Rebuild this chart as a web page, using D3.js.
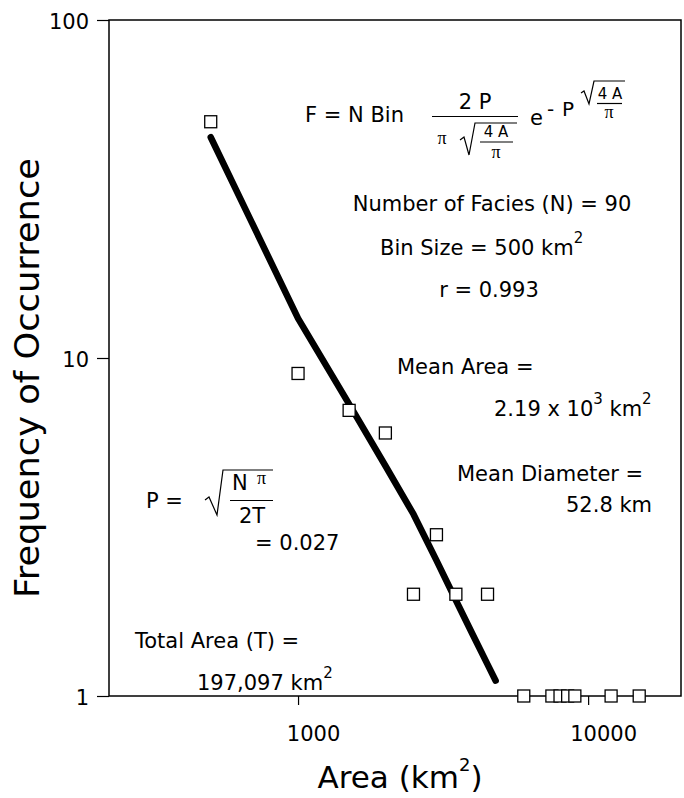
<!DOCTYPE html>
<html>
<head>
<meta charset="utf-8">
<script src="https://cdn.jsdelivr.net/npm/d3@7"></script>
<style>
  html, body { margin: 0; padding: 0; background: #fff; }
  svg { display: block; font-family: "DejaVu Sans", Verdana, sans-serif; }
</style>
</head>
<body>
<svg id="chart" width="684" height="798"></svg>
<script>
// Facies area-frequency histogram (log-log), bin size 500 km²
const binArea   = [500, 1000, 1500, 2000, 2500, 3000, 3500, 4500, 6000, 7500, 8000, 8500, 9000, 12000, 15000];
const frequency = [50,  9,    7,    6,    2,    3,    2,    2,    1,    1,    1,    1,    1,    1,     1];

// Fitted distribution curve
const fitArea = [500, 1000, 1500, 2000, 2500, 3000, 3500, 4000, 4500, 4800];
const fitFreq = [45,  13.1, 7.3,  4.8,  3.45, 2.52, 1.92, 1.52, 1.24, 1.11];

const xTicks = [1000, 10000];
const yTicks = [1, 10, 100];
const xDomain = [223, 20900];
const yDomain = [1, 100];

const svg = d3.select("#chart");
const plot = { left: 109, right: 681, top: 20, bottom: 696 };

const x = d3.scaleLog().domain(xDomain).range([plot.left, plot.right]);
const y = d3.scaleLog().domain(yDomain).range([plot.bottom, plot.top]);

// Axes
const yAxis = svg.append("g")
  .attr("transform", `translate(${plot.left},0)`)
  .call(d3.axisLeft(y).tickValues(yTicks).tickFormat(d3.format("d")).tickSize(12).tickPadding(8));
yAxis.select(".domain").remove();
yAxis.selectAll(".tick line").attr("stroke", "#000").attr("stroke-width", 1.2);
yAxis.selectAll(".tick text").attr("font-size", 21).attr("font-family", "DejaVu Sans").attr("fill", "#000").attr("dy", "0.4em");

const xAxis = svg.append("g")
  .attr("transform", `translate(0,${plot.bottom})`)
  .call(d3.axisBottom(x).tickValues(xTicks).tickFormat(d3.format("d")).tickSize(9));
xAxis.select(".domain").remove();
xAxis.selectAll(".tick line").attr("stroke", "#000").attr("stroke-width", 1.2);
xAxis.selectAll(".tick text").attr("font-size", 21).attr("font-family", "DejaVu Sans").attr("fill", "#000")
  .attr("y", 45).attr("dy", 0).attr("dx", 15);

// Plot frame
svg.append("rect")
  .attr("x", plot.left).attr("y", plot.top)
  .attr("width", plot.right - plot.left).attr("height", plot.bottom - plot.top)
  .attr("fill", "none").attr("stroke", "#000").attr("stroke-width", 1.5);

// Axis titles
svg.append("text")
  .attr("x", 400).attr("y", 788).attr("text-anchor", "middle")
  .attr("font-size", 31).attr("fill", "#000")
  .call(t => {
    t.append("tspan").text("Area (km");
    t.append("tspan").attr("font-size", 18).attr("dy", -17).text("2");
    t.append("tspan").attr("dy", 17).text(")");
  });

svg.append("text")
  .attr("transform", "translate(39,378) rotate(-90)")
  .attr("text-anchor", "middle")
  .attr("font-size", 33).attr("fill", "#000")
  .attr("textLength", 440).attr("lengthAdjust", "spacingAndGlyphs")
  .text("Frequency of Occurrence");

// Fitted curve
const line = d3.line().x(d => x(d[0])).y(d => y(d[1])).curve(d3.curveLinear);
svg.append("path")
  .datum(fitArea.map((a, i) => [a, fitFreq[i]]))
  .attr("d", line)
  .attr("fill", "none").attr("stroke", "#000").attr("stroke-width", 6.5)
  .attr("stroke-linecap", "round").attr("stroke-linejoin", "round");

// Observed frequencies
const sq = 12;
svg.append("g").selectAll("rect")
  .data(binArea.map((a, i) => [a, frequency[i]]))
  .join("rect")
  .attr("x", d => x(d[0]) - sq / 2).attr("y", d => y(d[1]) - sq / 2)
  .attr("width", sq).attr("height", sq)
  .attr("fill", "#fff").attr("stroke", "#000").attr("stroke-width", 1.3);

// Annotations
const ann = svg.append("g").attr("fill", "#000");
function txt(xp, yp, s, size, anchor, family) {
  return ann.append("text").attr("x", xp).attr("y", yp)
    .attr("font-size", size || 21).attr("text-anchor", anchor || "start")
    .attr("font-family", family || "DejaVu Sans").text(s);
}
function withSup(xp, yp, parts) {
  const t = ann.append("text").attr("x", xp).attr("y", yp).attr("font-size", 21);
  let shift = 0;
  parts.forEach(([s, sup]) => {
    const target = sup ? -12 : 0;
    t.append("tspan").attr("dy", target - shift).attr("font-size", sup ? 15 : 21).text(s);
    shift = target;
  });
  return t;
}
function stroke(d, w) {
  ann.append("path").attr("d", d).attr("fill", "none").attr("stroke", "#000").attr("stroke-width", w || 1.2);
}
const serif = "Liberation Serif";

// F = N Bin (2P / (π sqrt(4A/π))) e^(-P sqrt(4A/π))
txt(305, 122, "F = N Bin");
txt(475, 109, "2 P", 21, "middle");
stroke("M432,116.5H518");
txt(442, 144, "π", 18, "middle", serif);
stroke("M460,140L464,137L469,155L475,123H517");
txt(496, 137, "4 A", 15, "middle");
stroke("M480,142H513");
txt(496, 158, "π", 18, "middle", serif);
txt(530, 125, "e");
txt(547, 116, "-", 20);
txt(562, 116, "P", 20);
stroke("M581,93L584,91L589,104L594,81H625");
txt(610, 99, "4 A", 15, "middle");
stroke("M597,103.5H622");
txt(609, 118, "π", 18, "middle", serif);

txt(492, 211, "Number of Facies (N) = 90", 21, "middle");
withSup(380, 255, [["Bin Size = 500 km"], ["2", true]]);
txt(489, 297, "r = 0.993", 21, "middle");

txt(397, 374, "Mean Area =");
withSup(494, 416, [["2.19 x 10"], ["3", true], [" km"], ["2", true]]);

txt(457, 481, "Mean Diameter =");
txt(566, 512, "52.8 km");

// P = sqrt(Nπ / 2T)
txt(146, 508, "P =");
stroke("M205,500L209,497L217,515L223,470H273");
txt(232, 490, "N");
txt(257, 484, "π", 18, "start", serif);
stroke("M230,500.5H273");
txt(252, 523, "2T", 21, "middle");
txt(255, 550, "= 0.027");

txt(135, 648, "Total Area (T) =");
withSup(197, 690, [["197,097 km"], ["2", true]]);
</script>
</body>
</html>
